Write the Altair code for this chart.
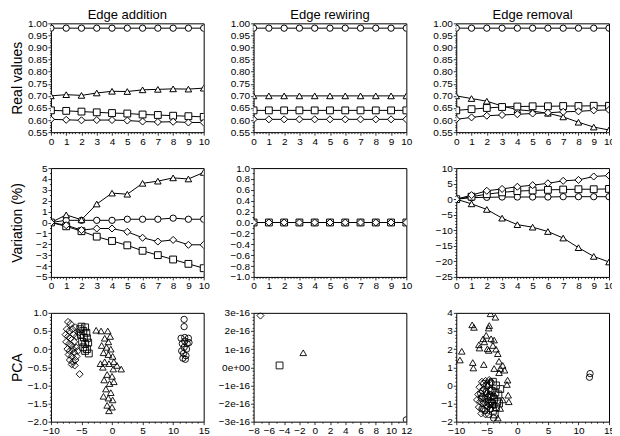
import altair as alt
import pandas as pd

FONT = "Liberation Sans"

STEPS = [0, 1, 2, 3, 4, 5, 6, 7, 8, 9, 10]
SERIES = ["circle", "triangle", "square", "diamond"]
PANEL_TITLES = ["Edge addition", "Edge rewiring", "Edge removal"]
ROW_TITLES = ["Real values", "Variation (%)", "PCA"]

# ---- Real values ----
add_real_circle = [0.980, 0.980, 0.980, 0.980, 0.980, 0.980, 0.980, 0.980, 0.980, 0.980, 0.980]
add_real_triangle = [0.700, 0.705, 0.702, 0.712, 0.719, 0.718, 0.725, 0.727, 0.729, 0.728, 0.732]
add_real_square = [0.640, 0.638, 0.635, 0.632, 0.629, 0.627, 0.623, 0.621, 0.618, 0.616, 0.613]
add_real_diamond = [0.603, 0.601, 0.599, 0.600, 0.600, 0.598, 0.594, 0.592, 0.593, 0.590, 0.590]

rew_real_circle = [0.980, 0.980, 0.980, 0.980, 0.980, 0.980, 0.980, 0.980, 0.980, 0.980, 0.980]
rew_real_triangle = [0.700, 0.700, 0.700, 0.700, 0.700, 0.700, 0.700, 0.700, 0.700, 0.700, 0.700]
rew_real_square = [0.640, 0.640, 0.640, 0.640, 0.640, 0.640, 0.640, 0.640, 0.640, 0.640, 0.640]
rew_real_diamond = [0.603, 0.603, 0.603, 0.603, 0.603, 0.603, 0.603, 0.603, 0.603, 0.603, 0.603]

rem_real_circle = [0.980, 0.980, 0.980, 0.980, 0.980, 0.980, 0.980, 0.980, 0.980, 0.980, 0.980]
rem_real_triangle = [0.700, 0.689, 0.678, 0.658, 0.643, 0.637, 0.628, 0.613, 0.591, 0.571, 0.559]
rem_real_square = [0.640, 0.645, 0.650, 0.654, 0.656, 0.657, 0.657, 0.658, 0.658, 0.659, 0.659]
rem_real_diamond = [0.603, 0.611, 0.618, 0.621, 0.624, 0.627, 0.630, 0.634, 0.636, 0.640, 0.642]

# ---- Variation (%) ----
add_var_circle = [0, 0.2, 0.2, 0.2, 0.2, 0.3, 0.3, 0.3, 0.4, 0.3, 0.3]
add_var_triangle = [0, 0.7, 0.25, 1.7, 2.7, 2.6, 3.6, 3.8, 4.1, 4.0, 4.6]
add_var_square = [0, -0.35, -0.8, -1.3, -1.7, -2.1, -2.6, -3.0, -3.4, -3.8, -4.2]
add_var_diamond = [0, -0.25, -0.7, -0.55, -0.55, -0.85, -1.4, -1.75, -1.6, -2.05, -2.05]

rew_var_circle = [0, 0, 0, 0, 0, 0, 0, 0, 0, 0, 0]
rew_var_triangle = [0, 0, 0, 0, 0, 0, 0, 0, 0, 0, 0]
rew_var_square = [0, 0, 0, 0, 0, 0, 0, 0, 0, 0, 0]
rew_var_diamond = [0, 0, 0, 0, 0, 0, 0, 0, 0, 0, 0]

rem_var_circle = [0, 0.5, 0.6, 0.7, 0.7, 0.7, 0.7, 0.8, 0.8, 0.8, 0.8]
rem_var_triangle = [0, -1.5, -3.3, -6.1, -8.2, -9.0, -10.4, -12.5, -15.6, -18.4, -20.2]
rem_var_square = [0, 0.8, 1.6, 2.2, 2.6, 2.8, 3.0, 3.1, 3.2, 3.2, 3.3]
rem_var_diamond = [0, 1.3, 2.7, 3.3, 4.0, 4.5, 5.1, 5.9, 6.2, 7.3, 7.6]

# ---- PCA ----
add_pca_diamond_x = [-7.2, -6.8, -7.4, -7.0, -6.5, -7.6, -7.2, -6.8, -6.3, -7.5, -7.0, -6.6, -6.2, -7.3, -6.9, -6.4,
                     -7.1, -6.6, -6.2, -6.9, -6.4, -6.0, -6.6, -6.1, -5.8, -5.9, -5.8, -6.0, -5.5, -5.6, -5.3]
add_pca_diamond_y = [0.75, 0.70, 0.55, 0.50, 0.55, 0.40, 0.35, 0.30, 0.40, 0.20, 0.15, 0.10, 0.20, 0.00, -0.05, 0.00,
                     -0.15, -0.20, -0.10, -0.30, -0.35, -0.30, -0.42, -0.45, -0.20, 0.05, 0.35, 0.60, 0.45, -0.05, -0.69]
add_pca_square_x = [-5.0, -4.4, -4.7, -4.2, -5.1, -4.6, -4.1, -4.9, -4.4, -3.9, -4.7, -4.1, -3.8, -4.4, -5.2]
add_pca_square_y = [0.62, 0.60, 0.50, 0.45, 0.40, 0.32, 0.30, 0.20, 0.15, 0.18, 0.05, 0.00, -0.12, -0.05, 0.55]
add_pca_triangle_x = [-2.6, -1.8, -0.7, -0.3, -1.2, -0.6, -1.7, -0.9, -0.2, -1.4, -0.6, 0.1, -1.9, -1.2, -0.5, 0.3,
                      0.8, 1.5, -1.5, 0.2, -0.8, 0.0, -1.3, -0.4, 0.3, -1.0, -0.2, -1.4, -0.6, 0.1, -0.8, 0.0, -0.5]
add_pca_triangle_y = [0.52, 0.50, 0.50, 0.35, 0.30, 0.20, 0.10, 0.05, 0.00, -0.10, -0.15, -0.20, -0.40, -0.35, -0.40, -0.35,
                      -0.45, -0.55, -0.50, -0.55, -0.70, -0.75, -0.85, -0.95, -0.90, -1.10, -1.20, -1.30, -1.35, -1.40, -1.55, -1.60, -1.70]
add_pca_circle_x = [11.8, 11.8, 11.3, 11.9, 12.5, 11.5, 12.3, 11.8, 11.4, 12.2, 11.7, 12.1, 11.6, 12.0, 12.6, 11.9]
add_pca_circle_y = [0.82, 0.62, 0.30, 0.32, 0.30, 0.15, 0.15, 0.05, -0.05, 0.00, -0.12, -0.18, -0.25, -0.28, 0.18, 0.22]

rew_pca_circle_x = [12.0]
rew_pca_circle_y = [-2.9e-16]
rew_pca_triangle_x = [-1.5]
rew_pca_triangle_y = [0.8e-16]
rew_pca_square_x = [-4.6]
rew_pca_square_y = [0.1e-16]
rew_pca_diamond_x = [-7.1]
rew_pca_diamond_y = [2.85e-16]

rem_pca_triangle_x = [-9.1, -9.4, -7.4, -7.1, -7.3, -7.2, -5.5, -4.4, -3.6, -4.7, -5.1, -4.3, -5.6, -6.2, -6.3, -4.9,
                      -4.0, -3.8, -3.5, -3.2, -3.8, -3.0, -2.8, -2.4, -2.1, -3.0, -1.6, -1.7, -1.5, -1.4, -2.4, -3.2,
                      -2.8, -4.6, -5.4, -4.7]
rem_pca_triangle_y = [1.88, 1.40, 3.34, 3.20, 1.26, 0.96, 1.15, 3.95, 3.76, 3.16, 2.76, 2.57, 2.57, 2.06, 2.24, 2.02,
                      2.20, 2.50, 2.00, 1.75, 0.93, 1.33, 0.93, 1.10, 0.84, 0.70, 0.29, 0.05, -0.54, -0.90, -0.80, -1.80,
                      -1.27, 3.30, 2.40, 1.93]
rem_pca_diamond_x = [-5.8, -5.2, -4.6, -6.2, -5.5, -4.8, -6.4, -5.8, -5.0, -4.4, -6.1, -5.4, -4.7, -6.3, -5.6, -4.9,
                     -5.9, -5.2, -4.5, -6.6]
rem_pca_diamond_y = [0.20, 0.25, 0.30, -0.10, -0.20, -0.05, -0.50, -0.60, -0.45, -0.30, -0.90, -0.95, -0.80, -1.20, -1.30, -1.20,
                     -1.55, -1.60, -1.10, -0.80]
rem_pca_square_x = [-4.6, -4.0, -3.5, -4.2, -3.6, -3.1, -4.4, -3.8, -3.3, -4.1, -3.5, -4.0, -3.0, -4.7, -3.7, -2.8]
rem_pca_square_y = [0.10, 0.20, 0.00, -0.30, -0.40, -0.50, -0.60, -0.75, -0.90, -1.00, -1.20, -1.40, -1.00, -0.90, -1.60, -0.20]
rem_pca_circle_x = [-5.5, -5.0, -4.3, -5.7, -5.1, -4.5, -3.9, -5.9, -5.3, -4.8, -5.6, -5.0, -4.4, -3.8, -5.3, -4.7,
                    -3.9, -6.0, -5.8, -4.2, 11.8, 11.9]
rem_pca_circle_y = [0.10, 0.00, 0.15, -0.30, -0.35, -0.50, -0.60, -0.70, -0.75, -0.65, -1.00, -1.10, -1.30, -1.10, -1.40, -1.60,
                    -1.80, -0.45, -1.30, -0.90, 0.45, 0.65]

# ---- axis tick labels (major ticks) ----
X_LINE_MAJOR = [0, 1, 2, 3, 4, 5, 6, 7, 8, 9, 10]
Y_REAL_MAJOR = [0.55, 0.6, 0.65, 0.7, 0.75, 0.8, 0.85, 0.9, 0.95, 1.0]
Y_ADDVAR_MAJOR = [-5, -4, -3, -2, -1, 0, 1, 2, 3, 4, 5]
Y_REWVAR_MAJOR = [-1.0, -0.8, -0.6, -0.4, -0.2, 0.0, 0.2, 0.4, 0.6, 0.8, 1.0]
Y_REMVAR_MAJOR = [-25, -20, -15, -10, -5, 0, 5, 10]
X_PCA_MAJOR = [-10, -5, 0, 5, 10, 15]
X_REWPCA_MAJOR = [-8, -6, -4, -2, 0, 2, 4, 6, 8, 10, 12]
Y_ADDPCA_MAJOR = [-2.0, -1.5, -1.0, -0.5, 0.0, 0.5, 1.0]
Y_REWPCA_MAJOR = [-3e-16, -2e-16, -1e-16, 0.0, 1e-16, 2e-16, 3e-16]
Y_REMPCA_MAJOR = [-2, -1, 0, 1, 2, 3, 4]

W, H = 153, 109
SHAPE_SCALE = alt.Scale(domain=SERIES, range=["circle", "triangle-up", "square", "diamond"])
SIZE_SCALE = alt.Scale(domain=SERIES, range=[40, 50, 36, 52])


def minor_ticks(major, n_minor):
    step = (major[1] - major[0]) / n_minor
    n = round((major[-1] - major[0]) / step)
    return [float(f"{major[0] + i * step:.10g}") for i in range(n + 1)]


def make_axis(major, n_minor, fmt, title=None):
    vals = sorted(set(minor_ticks(major, n_minor)) | set(float(m) for m in major))
    arr = ",".join(repr(float(m)) for m in major)
    is_major = f"indexof([{arr}], datum.value) >= 0"
    if fmt == "sci":
        lab = f"{is_major} ? (datum.value == 0 ? '0e+00' : format(datum.value, '.0e')) : ''"
    else:
        lab = f"{is_major} ? format(datum.value, '{fmt}') : ''"
    kw = dict(
        values=vals, labelExpr=lab, grid=False, domain=False,
        tickColor="black", tickWidth=0.8,
        tickSize={"condition": {"test": is_major, "value": 3}, "value": 1.5},
        labelFont=FONT, labelFontSize=10, labelColor="black", labelPadding=1,
        labelOverlap=False, labelFlush=False, labelBound=False,
    )
    if title:
        kw.update(title=title, titleFont=FONT, titleFontSize=14, titleFontWeight="normal",
                  titleColor="black", titlePadding=4, minExtent=22, maxExtent=22)
    else:
        kw.update(title=None)
    return alt.Axis(**kw)


def line_panel(series_vals, ydom, ymajor, yminor, yfmt, ytitle=None, title=None):
    rows = []
    for s, vals in zip(SERIES, series_vals):
        for x, v in zip(STEPS, vals):
            rows.append({"x": x, "y": v, "s": s})
    df = pd.DataFrame(rows)
    xenc = alt.X("x:Q", scale=alt.Scale(domain=[0, 10], nice=False, zero=False),
                 axis=make_axis(X_LINE_MAJOR, 5, "d"))
    yenc = alt.Y("y:Q", scale=alt.Scale(domain=ydom, nice=False, zero=False),
                 axis=make_axis(ymajor, yminor, yfmt, ytitle))
    base = alt.Chart(df)
    lines = base.mark_line(color="black", strokeWidth=1, clip=True).encode(x=xenc, y=yenc, detail="s:N")
    pts = base.mark_point(filled=True, fill="white", stroke="black", strokeWidth=1, opacity=1, clip=True).encode(
        x=xenc, y=yenc,
        shape=alt.Shape("s:N", scale=SHAPE_SCALE, legend=None),
        size=alt.Size("s:N", scale=SIZE_SCALE, legend=None),
    )
    ch = alt.layer(lines, pts).properties(width=W, height=H)
    if title:
        ch = ch.properties(title=alt.TitleParams(title, font=FONT, fontSize=13, fontWeight="normal",
                                                 color="black", offset=-4, anchor="middle"))
    return ch


def pca_panel(pts_by_series, xdom, xmajor, xminor, xfmt, ydom, ymajor, yminor, yfmt, ytitle=None):
    rows = []
    for s, (xs, ys) in pts_by_series:
        for x, y in zip(xs, ys):
            rows.append({"x": x, "y": y, "s": s})
    df = pd.DataFrame(rows)
    return alt.Chart(df).mark_point(filled=False, stroke="black", strokeWidth=0.9, opacity=1, clip=True).encode(
        x=alt.X("x:Q", scale=alt.Scale(domain=xdom, nice=False, zero=False),
                axis=make_axis(xmajor, xminor, xfmt)),
        y=alt.Y("y:Q", scale=alt.Scale(domain=ydom, nice=False, zero=False),
                axis=make_axis(ymajor, yminor, yfmt, ytitle)),
        shape=alt.Shape("s:N", scale=SHAPE_SCALE, legend=None),
        size=alt.Size("s:N", scale=SIZE_SCALE, legend=None),
    ).properties(width=W, height=H)


charts = [
    line_panel([add_real_circle, add_real_triangle, add_real_square, add_real_diamond],
               [0.55, 1.0], Y_REAL_MAJOR, 5, ".2f", ROW_TITLES[0], PANEL_TITLES[0]),
    line_panel([rew_real_circle, rew_real_triangle, rew_real_square, rew_real_diamond],
               [0.55, 1.0], Y_REAL_MAJOR, 5, ".2f", None, PANEL_TITLES[1]),
    line_panel([rem_real_circle, rem_real_triangle, rem_real_square, rem_real_diamond],
               [0.55, 1.0], Y_REAL_MAJOR, 5, ".2f", None, PANEL_TITLES[2]),
    line_panel([add_var_circle, add_var_triangle, add_var_square, add_var_diamond],
               [-5, 5], Y_ADDVAR_MAJOR, 2, "d", ROW_TITLES[1]),
    line_panel([rew_var_circle, rew_var_triangle, rew_var_square, rew_var_diamond],
               [-1, 1], Y_REWVAR_MAJOR, 2, ".1f"),
    line_panel([rem_var_circle, rem_var_triangle, rem_var_square, rem_var_diamond],
               [-25, 10], Y_REMVAR_MAJOR, 5, "d"),
    pca_panel([("diamond", (add_pca_diamond_x, add_pca_diamond_y)),
               ("square", (add_pca_square_x, add_pca_square_y)),
               ("triangle", (add_pca_triangle_x, add_pca_triangle_y)),
               ("circle", (add_pca_circle_x, add_pca_circle_y))],
              [-10, 15], X_PCA_MAJOR, 5, "d", [-2, 1], Y_ADDPCA_MAJOR, 5, ".1f", ROW_TITLES[2]),
    pca_panel([("diamond", (rew_pca_diamond_x, rew_pca_diamond_y)),
               ("square", (rew_pca_square_x, rew_pca_square_y)),
               ("triangle", (rew_pca_triangle_x, rew_pca_triangle_y)),
               ("circle", (rew_pca_circle_x, rew_pca_circle_y))],
              [-8, 12], X_REWPCA_MAJOR, 2, "d", [-3e-16, 3e-16], Y_REWPCA_MAJOR, 5, "sci"),
    pca_panel([("triangle", (rem_pca_triangle_x, rem_pca_triangle_y)),
               ("diamond", (rem_pca_diamond_x, rem_pca_diamond_y)),
               ("square", (rem_pca_square_x, rem_pca_square_y)),
               ("circle", (rem_pca_circle_x, rem_pca_circle_y))],
              [-10, 15], X_PCA_MAJOR, 5, "d", [-2, 4], Y_REMPCA_MAJOR, 5, "d"),
]

chart = alt.concat(*charts, columns=3, spacing={"row": 36, "column": 50}, bounds="flush").properties(
    padding={"left": 2, "top": 0, "right": -4, "bottom": 2},
    background="white",
).configure_view(stroke="black", strokeWidth=1)

chart.save("out.html", embed_options={"renderer": "svg", "actions": False})
